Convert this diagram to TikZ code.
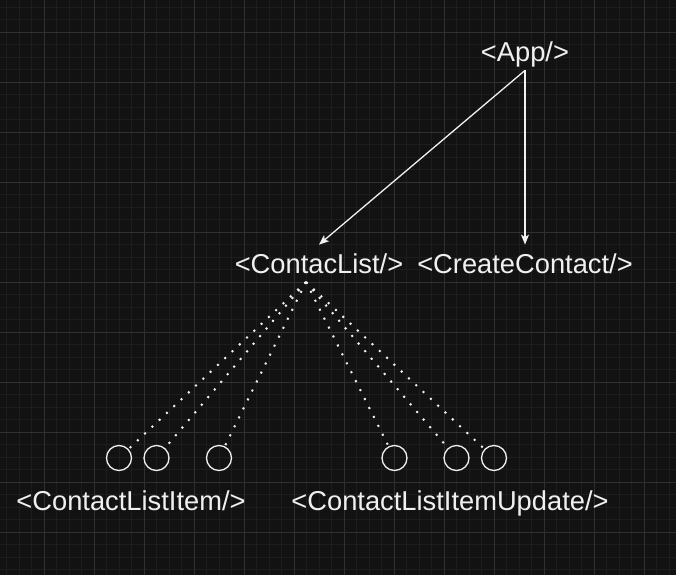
\documentclass[tikz,border=0pt]{standalone}
\usepackage{fontspec}
\setmainfont{Liberation Sans}
\usetikzlibrary{arrows.meta}
\definecolor{bgc}{HTML}{121212}
\definecolor{gminor}{HTML}{1D1D1D}
\definecolor{gmajor}{HTML}{303030}
\definecolor{fg}{HTML}{F0F0F0}
\begin{document}
\begin{tikzpicture}[x=1pt,y=-1pt,
  minorline/.style={gminor,line width=1pt},
  majorline/.style={gmajor,line width=1pt},
  lbl/.style={text=fg,font=\fontsize{27.3}{32}\selectfont,inner xsep=0pt,inner ysep=8.5pt,text height=20pt,text depth=0pt,anchor=base},
  dot/.style={draw=fg,circle,line width=1.3pt,minimum size=25pt,inner sep=0pt},
  arr/.style={fg,line width=1.3pt,-{Stealth[length=10pt,width=8pt,inset=2.5pt]}},
  dotline/.style={fg,line width=2pt,dash pattern=on 2pt off 8pt}]
\fill[bgc] (0,0) rectangle (676,575);
\useasboundingbox (0,0) rectangle (676,575);
\foreach \i in {0,...,53} {\draw[minorline] ({6.8+12.5*\i},0) -- ({6.8+12.5*\i},575);}
\foreach \i in {0,...,45} {\draw[minorline] (0,{7.3+12.5*\i}) -- (676,{7.3+12.5*\i});}
\foreach \i in {0,...,12} {\draw[majorline] ({44.3+50*\i},0) -- ({44.3+50*\i},575);}
\foreach \i in {0,...,10} {\draw[majorline] (0,{32.3+50*\i}) -- (676,{32.3+50*\i});}

\node[lbl] (app) at (525,61.7) {<App/>};
\node[lbl] (cl) at (319,273.3) {<ContacList/>};
\node[lbl] (cc) at (525,273.3) {<CreateContact/>};
\node[lbl] (cli) at (131,510.7) {<ContactListItem/>};
\node[lbl] (clu) at (450,510.7) {<ContactListItemUpdate/>};

\node[dot] (c1) at (119,458) {};
\node[dot] (c2) at (156.5,458) {};
\node[dot] (c3) at (219,458) {};
\node[dot] (c4) at (394.5,458) {};
\node[dot] (c5) at (456.5,458) {};
\node[dot] (c6) at (494,458) {};

\draw[arr] (app.south) -- (cl.north);
\draw[arr] (app.south) -- (cc.north);

\coordinate (fan) at ([xshift=-13pt]cl.south);
\foreach \c in {c1,c2,c3,c4,c5,c6} {\draw[dotline] (fan) -- (\c);}
\end{tikzpicture}
\end{document}
